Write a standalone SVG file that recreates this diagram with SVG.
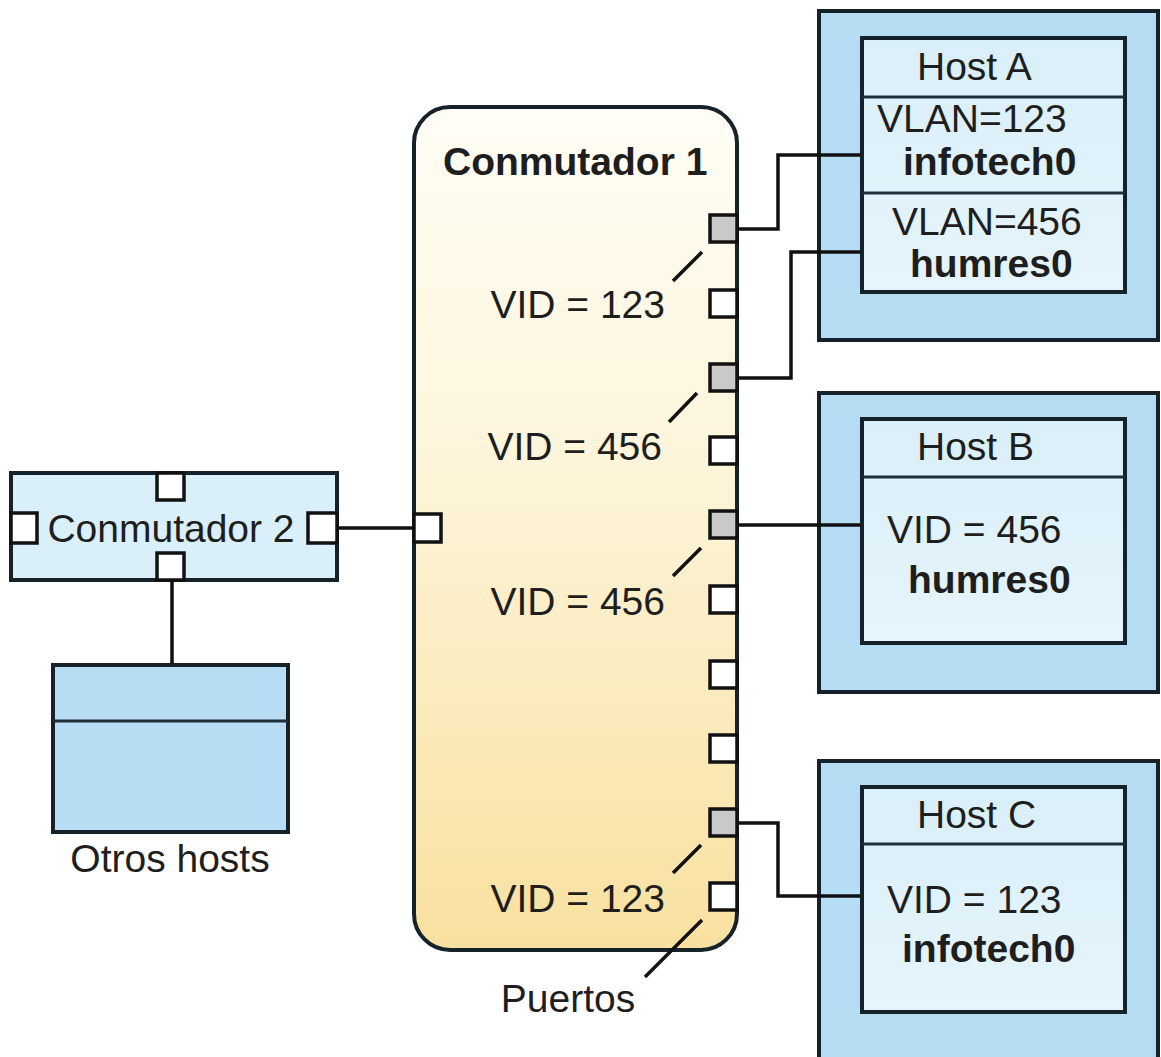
<svg xmlns="http://www.w3.org/2000/svg" width="1161" height="1057" viewBox="0 0 1161 1057">
<defs>
<linearGradient id="gY" x1="0" y1="0" x2="0" y2="1">
<stop offset="0" stop-color="#fffdf5"/>
<stop offset="0.4" stop-color="#fdf5dc"/>
<stop offset="1" stop-color="#f8e09f"/>
</linearGradient>
<linearGradient id="gB" x1="0" y1="0" x2="0" y2="1">
<stop offset="0" stop-color="#d9eff9"/>
<stop offset="1" stop-color="#e6f4fb"/>
</linearGradient>
<style>
.box{stroke:#16222a;stroke-width:4;}
.outer{fill:#b7ddf5;}
.inner{fill:url(#gB);}
.port{fill:#ffffff;stroke:#111;stroke-width:3.5;}
.gport{fill:#c9c9c9;stroke:#111;stroke-width:3.5;}
.div{stroke:#1e2f3a;stroke-width:3;fill:none;}
.wire{stroke:#111;stroke-width:3.5;fill:none;}
.callout{stroke:#111;stroke-width:3.5;fill:none;}
text{font-family:"Liberation Sans",Arial,Helvetica,sans-serif;font-size:39px;fill:#1e1e1e;}
.b{font-weight:bold;}
</style>
</defs>
<rect width="1161" height="1057" fill="#ffffff"/>

<g id="conmutador1">
<rect class="box" x="414" y="107" width="323" height="843" rx="36" ry="36" fill="url(#gY)"/>
<text class="b" x="443" y="175">Conmutador 1</text>
<rect class="gport" x="710" y="215" width="27" height="27"/>
<rect class="port" x="710" y="290" width="27" height="27"/>
<rect class="gport" x="710" y="364" width="27" height="27"/>
<rect class="port" x="710" y="437" width="27" height="27"/>
<rect class="gport" x="710" y="511" width="27" height="27"/>
<rect class="port" x="710" y="586" width="27" height="27"/>
<rect class="port" x="710" y="661" width="27" height="27"/>
<rect class="port" x="710" y="735" width="27" height="27"/>
<rect class="gport" x="710" y="809" width="27" height="27"/>
<rect class="port" x="710" y="883" width="27" height="27"/>
<rect class="port" x="414" y="514" width="27" height="28"/>
<text x="665" y="318" text-anchor="end">VID = 123</text>
<text x="662" y="460" text-anchor="end">VID = 456</text>
<text x="665" y="615" text-anchor="end">VID = 456</text>
<text x="665" y="912" text-anchor="end">VID = 123</text>
<line class="callout" x1="702" y1="252" x2="673" y2="281"/>
<line class="callout" x1="697" y1="393" x2="669" y2="422"/>
<line class="callout" x1="701" y1="548" x2="673" y2="576"/>
<line class="callout" x1="701" y1="845" x2="673" y2="873"/>
<line class="callout" x1="702" y1="920" x2="645" y2="977"/>
<text x="568" y="1012" text-anchor="middle">Puertos</text>
</g>

<g id="conmutador2">
<rect class="box" x="11" y="473" width="326" height="107" fill="#d9eff9"/>
<rect class="port" x="157" y="473" width="27" height="27"/>
<rect class="port" x="157" y="553" width="27" height="27"/>
<rect class="port" x="11" y="513" width="26" height="30"/>
<rect class="port" x="308" y="513" width="29" height="30"/>
<text x="171" y="542" text-anchor="middle">Conmutador 2</text>
</g>

<g id="otros-hosts">
<rect class="box" x="53" y="665" width="235" height="167" fill="#b7ddf5"/>
<line class="div" x1="53" y1="721" x2="288" y2="721"/>
<text x="170" y="872" text-anchor="middle">Otros hosts</text>
</g>

<g id="host-a">
<rect class="box outer" x="819" y="11" width="339" height="329"/>
<rect class="box inner" x="862" y="38" width="263" height="254"/>
<line class="div" x1="862" y1="97" x2="1125" y2="97"/>
<line class="div" x1="862" y1="193" x2="1125" y2="193"/>
<text x="917" y="80">Host A</text>
<text x="877" y="132">VLAN=123</text>
<text class="b" x="903" y="175">infotech0</text>
<text x="892" y="235">VLAN=456</text>
<text class="b" x="910" y="277">humres0</text>
</g>

<g id="host-b">
<rect class="box outer" x="819" y="393" width="339" height="299"/>
<rect class="box inner" x="862" y="419" width="263" height="224"/>
<line class="div" x1="862" y1="477" x2="1125" y2="477"/>
<text x="917" y="460">Host B</text>
<text x="887" y="543">VID = 456</text>
<text class="b" x="908" y="593">humres0</text>
</g>

<g id="host-c">
<rect class="box outer" x="819" y="761" width="339" height="320"/>
<rect class="box inner" x="862" y="787" width="263" height="225"/>
<line class="div" x1="862" y1="844" x2="1125" y2="844"/>
<text x="917" y="828">Host C</text>
<text x="887" y="913">VID = 123</text>
<text class="b" x="902" y="962">infotech0</text>
</g>

<g id="connectors">
<path class="wire" d="M737,229 H778 V155 H861"/>
<path class="wire" d="M737,378 H791 V252 H861"/>
<path class="wire" d="M737,525 H861"/>
<path class="wire" d="M737,823 H778 V896 H861"/>
<path class="wire" d="M337,528 H413"/>
<path class="wire" d="M172,580 V664"/>
</g>
</svg>
